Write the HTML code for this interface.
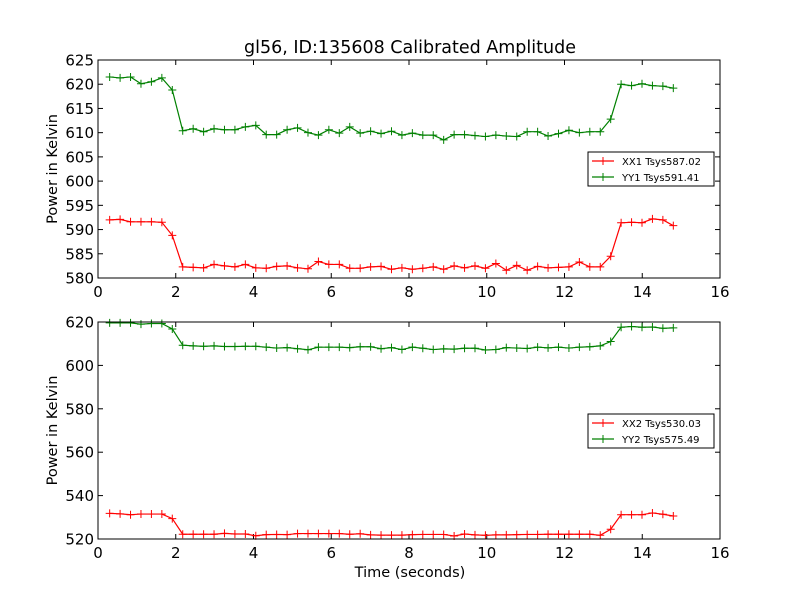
<!DOCTYPE html>
<html><head><meta charset="utf-8"><style>
html,body{margin:0;padding:0;background:#fff;}
svg{display:block;font-family:"DejaVu Sans","Liberation Sans",sans-serif;}
</style></head><body>
<svg id="chart" width="800" height="600" viewBox="0 0 800 600">
<rect width="800" height="600" fill="#fff"/>
<text x="410" y="53" font-size="17.5" text-anchor="middle">gl56, ID:135608 Calibrated Amplitude</text>
<g id="g1"></g>
<g id="g2"></g>
<text x="410" y="577" font-size="14.5" text-anchor="middle">Time (seconds)</text>
</svg>
<script>
const NS="http://www.w3.org/2000/svg";
const tStart=0.3, tStep=0.2685;
const xx1=[592.0,592.1,591.6,591.6,591.6,591.5,588.8,582.3,582.2,582.1,582.8,582.5,582.3,582.8,582.1,582.0,582.4,582.5,582.1,581.9,583.4,582.8,582.8,582.0,582.0,582.3,582.4,581.8,582.1,581.8,582.0,582.3,581.8,582.5,582.1,582.5,582.0,583.0,581.6,582.6,581.6,582.4,582.1,582.2,582.3,583.3,582.3,582.3,584.5,591.4,591.5,591.4,592.2,592.0,590.8];
const yy1=[621.5,621.3,621.5,620.1,620.5,621.3,618.8,610.4,610.8,610.2,610.8,610.6,610.6,611.2,611.5,609.6,609.6,610.6,611.0,610.0,609.5,610.6,609.9,611.2,609.9,610.3,609.8,610.3,609.5,609.9,609.5,609.5,608.5,609.6,609.6,609.4,609.2,609.5,609.3,609.2,610.2,610.2,609.3,609.8,610.5,610.0,610.2,610.2,612.8,620.0,619.7,620.1,619.7,619.6,619.2];
const xx2=[531.8,531.6,531.2,531.5,531.5,531.5,529.4,522.2,522.2,522.2,522.2,522.6,522.3,522.3,521.5,522.0,522.1,522.0,522.5,522.5,522.5,522.5,522.5,522.2,522.4,521.9,521.8,521.8,521.8,522.0,522.1,522.1,522.1,521.4,522.3,521.9,521.7,521.9,521.9,522.0,522.1,522.1,522.2,522.2,522.2,522.2,522.2,521.7,524.5,531.2,531.2,531.2,532.0,531.4,530.6];
const yy2=[619.6,619.6,619.6,619.0,619.3,619.3,616.8,609.3,609.0,608.8,609.0,608.7,608.7,608.8,608.8,608.4,608.0,608.2,607.7,607.2,608.4,608.4,608.4,608.2,608.6,608.6,607.7,608.2,607.3,608.4,607.9,607.3,607.6,607.5,607.9,607.9,607.1,607.3,608.2,608.0,607.8,608.4,608.1,608.4,608.0,608.4,608.6,609.0,611.0,617.6,617.9,617.6,617.7,617.1,617.3];
const xTicks=[0,2,4,6,8,10,12,14,16];
const yTicks1=[580,585,590,595,600,605,610,615,620,625];
const yTicks2=[520,540,560,580,600,620];
const legend1=["XX1 Tsys587.02","YY1 Tsys591.41"];
const legend2=["XX2 Tsys530.03","YY2 Tsys575.49"];

function mk(parent,tag,attrs){const e=document.createElementNS(NS,tag);for(const k in attrs)e.setAttribute(k,attrs[k]);parent.appendChild(e);return e;}

function panel(g,top,bottom,ymin,ymax,yTicks,sA,sB,leg,legY,pfx){
  const L=98,R=720;
  const xs=t=>L+(t-0)/(16-0)*(R-L);
  const ys=v=>bottom-(v-ymin)/(ymax-ymin)*(bottom-top);
  xTicks.forEach(t=>{
    const x=xs(t);
    const a=mk(g,'line',{x1:x,x2:x,y1:bottom,y2:bottom-5,stroke:'#000'});
    
    
    const b=mk(g,'line',{x1:x,x2:x,y1:top,y2:top+5,stroke:'#000'});
    
    
    const tx=mk(g,'text',{x:x,y:bottom+19,'font-size':15,'text-anchor':'middle'});
    tx.textContent=t;
    
    
  });
  yTicks.forEach(v=>{
    const y=ys(v);
    const a=mk(g,'line',{x1:L,x2:L+5,y1:y,y2:y,stroke:'#000'});
    
    
    const b=mk(g,'line',{x1:R,x2:R-5,y1:y,y2:y,stroke:'#000'});
    
    
    const tx=mk(g,'text',{x:L-4,y:y+5.5,'font-size':15,'text-anchor':'end'});
    tx.textContent=v;
    
    
  });
  const yl=mk(g,'text',{x:0,y:0,'font-size':14.5,'text-anchor':'middle',transform:`translate(57,${(top+bottom)/2}) rotate(-90)`});
  yl.textContent='Power in Kelvin';
  
  
  [[sA,'#ff0000'],[sB,'#008000']].forEach(([s,c],si)=>{
    const pts=s.map((v,i)=>[xs(tStart+i*tStep),ys(v)]);
    const pl=mk(g,'polyline',{points:pts.map(p=>p.join(',')).join(' '),fill:'none',stroke:c,'stroke-width':1.2});
    
    
    pts.forEach(p=>{
      const m=mk(g,'path',{d:`M${p[0]-4},${p[1]}H${p[0]+4}M${p[0]},${p[1]-4}V${p[1]+4}`,stroke:c,'stroke-width':1});
      
      
    });
  });
  const fr=mk(g,'rect',{x:L,y:top,width:R-L,height:bottom-top,fill:'none',stroke:'#000','stroke-width':1});
  
  
  const lg=mk(g,'g',{});
  
  
  mk(lg,'rect',{x:588,y:legY,width:126,height:34,fill:'#fff',stroke:'#000','stroke-width':1});
  leg.forEach((s,i)=>{
    const c=i?'#008000':'#ff0000';const y=legY+9+i*16;
    mk(lg,'line',{x1:592,x2:614,y1:y,y2:y,stroke:c,'stroke-width':1.2});
    mk(lg,'path',{d:`M599,${y}H607M603,${y-4}V${y+4}`,stroke:c});
    const t=mk(lg,'text',{x:622,y:y+4,'font-size':10});
    t.textContent=s;
    
    
  });
}
panel(document.getElementById('g1'),60,278,580,625,yTicks1,xx1,yy1,legend1,152,'top');
panel(document.getElementById('g2'),322,539,520,620,yTicks2,xx2,yy2,legend2,414,'bottom');
</script>
</body></html>
